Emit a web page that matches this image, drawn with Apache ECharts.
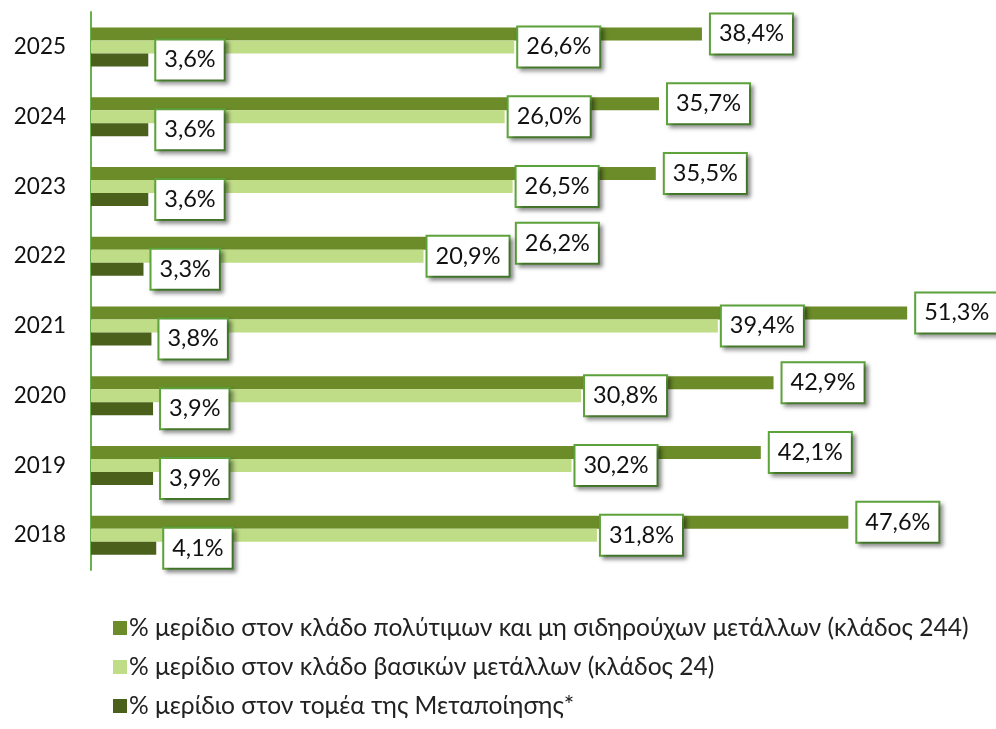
<!DOCTYPE html>
<html>
<head>
<meta charset="utf-8">
<script src="https://cdn.jsdelivr.net/npm/echarts@6/dist/echarts.min.js"></script>
<style>
  html, body { margin: 0; padding: 0; background: #fff; }
  #main { width: 996px; height: 729px; }
</style>
</head>
<body>
<div id="main"></div>
<script>
// έτη από πάνω προς τα κάτω
const years = ['2025', '2024', '2023', '2022', '2021', '2020', '2019', '2018']
// % μερίδιο στον κλάδο 244
const share244 = [38.4, 35.7, 35.5, 26.2, 51.3, 42.9, 42.1, 47.6]
// % μερίδιο στον κλάδο 24
const share24 = [26.6, 26.0, 26.5, 20.9, 39.4, 30.8, 30.2, 31.8]
// % μερίδιο στη Μεταποίηση
const shareManuf = [3.6, 3.6, 3.6, 3.3, 3.8, 3.9, 3.9, 4.1]

const seriesNames = [
    '% μερίδιο στον κλάδο πολύτιμων και μη σιδηρούχων μετάλλων (κλάδος 244)',
    '% μερίδιο στον κλάδο βασικών μετάλλων (κλάδος 24)',
    '% μερίδιο στον τομέα της Μεταποίησης*',
]
const colors = ['#6b8c28', '#bfdd86', '#4a601b']
const font = 'Lato'

const chart = echarts.init(document.getElementById('main'))

// κουτάκι ετικέτας με πράσινο περίγραμμα και σκιά
const boxLabel = (distance) => ({
    show: true,
    position: 'right',
    distance: distance,
    formatter: (p) => p.value.toFixed(1).replace('.', ',') + '%',
    fontFamily: font,
    fontSize: 23.5,
    lineHeight: 25,
    color: '#111',
    backgroundColor: '#fff',
    borderColor: '#5ea43c',
    borderWidth: 2,
    padding: [8, 8, 6, 8],
    shadowColor: 'rgba(0,0,0,0.35)',
    shadowBlur: 4,
    shadowOffsetX: 3,
    shadowOffsetY: 3,
})

const makeSeries = (name, data, color, distance) => ({
    name: name,
    type: 'bar',
    data: data,
    barWidth: 13,
    barGap: '0%',
    itemStyle: { color: color },
    label: boxLabel(distance),
})

chart.setOption({
    animation: false,
    grid: {
        left: 91,
        top: 12,
        width: 55 * 15.91,
        bottom: 159,
        containLabel: false,
    },
    xAxis: {
        type: 'value',
        min: 0,
        max: 55,
        show: false,
    },
    yAxis: {
        type: 'category',
        data: years,
        inverse: true,
        axisLine: { show: true, lineStyle: { color: '#6ab04c', width: 2 } },
        axisTick: { show: false },
        axisLabel: {
            margin: 25,
            fontFamily: font,
            fontSize: 22.5,
            color: '#111',
        },
    },
    legend: {
        orient: 'vertical',
        left: 108,
        top: 610,
        itemWidth: 14,
        itemHeight: 14,
        itemGap: 13,
        icon: 'rect',
        data: seriesNames,
        textStyle: {
            fontFamily: font,
            fontSize: 24.6,
            lineHeight: 26,
            color: '#222',
            padding: [0, 0, 0, -3],
        },
    },
    series: [
        makeSeries(seriesNames[0], share244, colors[0], 9),
        makeSeries(seriesNames[1], share24, colors[1], 4),
        makeSeries(seriesNames[2], shareManuf, colors[2], 8),
    ],
})
</script>
</body>
</html>
